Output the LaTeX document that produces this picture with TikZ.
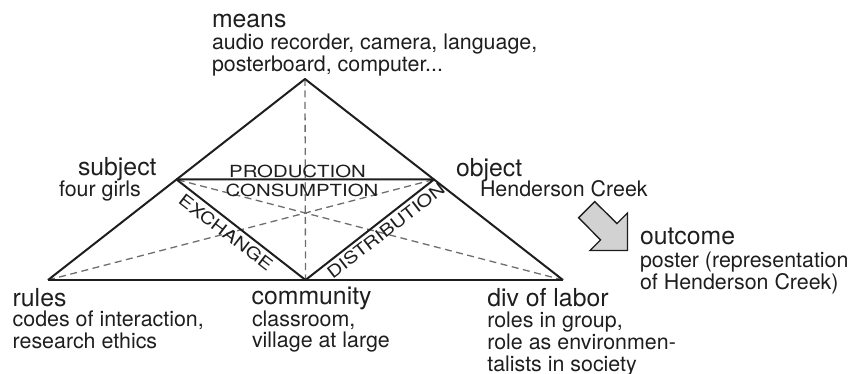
\documentclass[tikz,border=0pt]{standalone}
\usepackage{fontspec}
\setmainfont{TeX Gyre Heros}
\usepackage{graphicx}
\definecolor{ink}{HTML}{1E1E1E}
\definecolor{dash}{HTML}{6E6E6E}
\definecolor{arrowfill}{HTML}{D2D2D2}
\newcommand\txtlines[1]{\begin{tabular}[t]{@{}l@{}}#1\end{tabular}}
\newcommand\widecaps[1]{\scalebox{1.22}[1]{#1}}
\begin{document}
\begin{tikzpicture}[x=1pt,y=-1pt,
  every node/.style={inner sep=0pt,outer sep=0pt,text=ink},
  hd/.style={font=\fontsize{24.8}{26}\selectfont,anchor=base west},
  sb/.style={font=\fontsize{21.4}{20.5}\selectfont,anchor=base west},
  caps/.style={font=\fontsize{16.7}{17}\selectfont},
  solidline/.style={draw=ink,line width=2pt,line join=round},
  dashline/.style={draw=dash,line width=1.3pt,dash pattern=on 7pt off 4.5pt},
  fatarrow/.style={draw=ink,fill=arrowfill,line width=1.4pt,line join=miter}]
\useasboundingbox (0,0) rectangle (849,374);

% vertices
\coordinate (A) at (305,79);
\coordinate (L) at (48,280);
\coordinate (R) at (563,280);
\coordinate (S) at (176.5,179.5);
\coordinate (O) at (434,179.5);
\coordinate (C) at (305.5,280);

% dashed medians
\draw[dashline] (A) -- (C);
\draw[dashline] (L) -- (O);
\draw[dashline] (R) -- (S);

% outer triangle
\draw[solidline] (L) -- (A) -- (R);
\draw[solidline,line width=2.4pt] (L) -- (R);
% inner triangle
\draw[solidline] (S) -- (O) -- (C) -- cycle;

% inner labels
\node[caps,anchor=base] (prod) at (297.5,177.3) {\widecaps{PRODUCTION}};
\node[caps,anchor=base] (cons) at (302,196.7) {\widecaps{CONSUMPTION}};
\node[caps,rotate=-37.5] (exch) at (226,232.5) {\widecaps{EXCHANGE}};
\node[caps,rotate=37.7] (dist) at (385.8,230.8) {\widecaps{DISTRIBUTION}};

% corner labels
\node[hd] (means) at (212,27.7) {means};
\node[sb] (meansd) at (212,50) {\txtlines{audio recorder, camera, language,\\posterboard, computer...}};

\node[hd] (subject) at (78,176) {subject};
\node[sb] (subjectd) at (59,196.7) {four girls};

\node[hd] (object) at (456,176.7) {object};
\node[sb] (objectd) at (480,196.7) {Henderson Creek};

\node[hd] (rules) at (12.7,306) {rules};
\node[sb] (rulesd) at (12.7,326.7) {\txtlines{codes of interaction,\\research ethics}};

\node[hd] (community) at (251.7,305) {community};
\node[sb] (communityd) at (252,326) {\txtlines{classroom,\\village at large}};

\node[hd] (labor) at (487.3,306.7) {div of labor};
\node[sb] (labord) at (487.3,327.5) {\txtlines{roles in group,\\role as environmen-\\talists in society}};

\node[hd] (outcome) at (640,245) {outcome};
\node[sb] (outcomed) at (640,267.3) {\txtlines{poster (representation\\of Henderson Creek)}};

% fat arrow object -> outcome
\draw[fatarrow] (578.6,217.8) -- (594.8,201.6) -- (616.9,223.6) -- (627.5,213)
  -- (627.5,250.5) -- (590,250.5) -- (600.6,239.9) -- cycle;
\end{tikzpicture}
\end{document}
